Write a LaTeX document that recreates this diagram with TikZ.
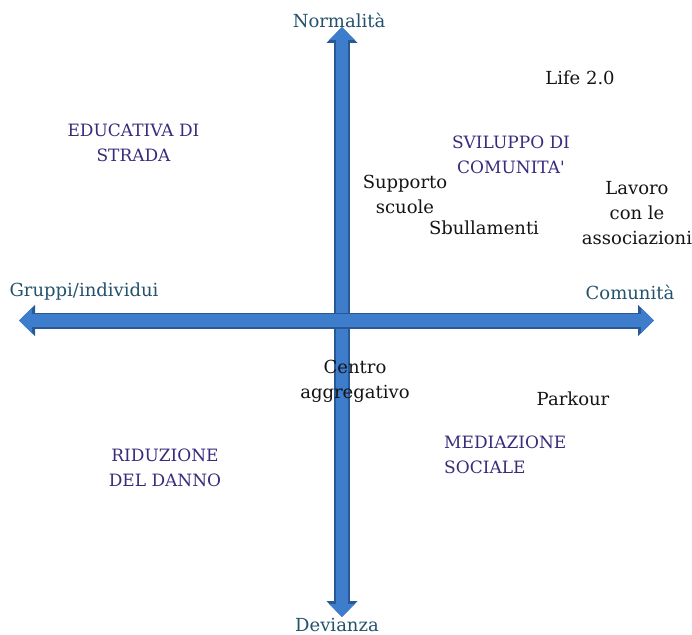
\documentclass[tikz,border=0pt]{standalone}
\usepackage{fontspec}
\setmainfont{DejaVu Serif}
\usetikzlibrary{arrows.meta,positioning,calc}

\definecolor{axisblue}{RGB}{62,124,204}
\definecolor{axisedge}{RGB}{40,88,150}
\definecolor{poletext}{RGB}{36,82,108}
\definecolor{areatext}{RGB}{58,42,124}
\definecolor{itemtext}{RGB}{20,20,20}

\begin{document}
\begin{tikzpicture}[x=1pt, y=-1pt, line join=round,
  axisedgeline/.style={line width=16pt, draw=axisedge,
    arrows={Triangle[width=30pt,length=16pt]-Triangle[width=30pt,length=16pt]}},
  axisline/.style={line width=12.5pt, draw=axisblue,
    arrows={Triangle[width=25pt,length=13pt]-Triangle[width=25pt,length=13pt]}},
  pole/.style={inner sep=0pt, text=poletext, font=\fontsize{18}{25}\selectfont},
  area/.style={inner sep=0pt, align=center, text=areatext, font=\fontsize{17}{25}\selectfont},
  item/.style={inner sep=0pt, align=center, text=itemtext, font=\fontsize{18}{25}\selectfont}]
\useasboundingbox (0,0) rectangle (692,634);

% the two axes
\coordinate (N) at (342,27);
\coordinate (S) at (342,617);
\coordinate (W) at (19,320.5);
\coordinate (E) at (654,320.5);
\draw[axisedgeline] (S)--(N);
\draw[axisline]     (S)--(N);
\draw[axisedgeline] (W)--(E);
\draw[axisline]     (W)--(E);

% names of the poles
\node[pole, anchor=base] (normal)  at (339,28)  {Normalità};
\node[pole, anchor=base] (devianz) at (337,631) {Devianza};
\node[pole, anchor=base] (gruppi)  at (84,296)  {Gruppi/individui};
\node[pole, anchor=base] (comun)   at (630,299) {Comunità};

% the four fields of work
\node[area] (educ)  at (133.5,143) {EDUCATIVA DI\\STRADA};
\node[area] (svil)  at (511,155)   {SVILUPPO DI\\COMUNITA\textquotesingle};
\node[area, align=left, anchor=west] (media) at (444,455) {MEDIAZIONE\\SOCIALE};
\node[area] (riduz) at (165,468)   {RIDUZIONE\\DEL DANNO};

% the projects
\node[item, anchor=base] (life)   at (580,84)  {Life 2.0};
\node[item] (scuole)  at (405,194) {Supporto\\scuole};
\node[item, anchor=base] (sbull)  at (484,234) {Sbullamenti};
\node[item] (assoc)   at (637,213) {Lavoro\\con le\\associazioni};
\node[item] (centro)  at (355,381) {Centro\\aggregativo};
\node[item, anchor=base] (park)   at (573,405) {Parkour};
\end{tikzpicture}
\end{document}
